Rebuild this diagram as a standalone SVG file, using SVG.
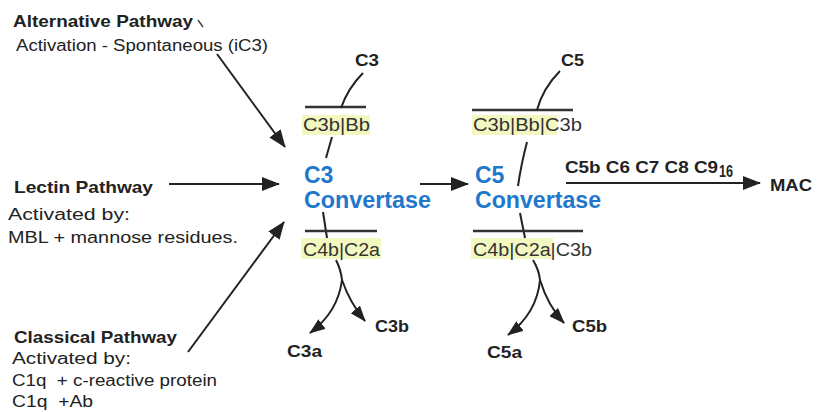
<svg xmlns="http://www.w3.org/2000/svg" width="827" height="412" viewBox="0 0 827 412">
<defs>
<marker id="ahb" viewBox="0 0 18 14" refX="17" refY="7" markerWidth="18" markerHeight="14" orient="auto" markerUnits="userSpaceOnUse">
<path d="M0,0 L18,7 L0,14 z" fill="#222"/>
</marker>
<marker id="ahs" viewBox="0 0 16 12" refX="15" refY="6" markerWidth="16" markerHeight="12" orient="auto" markerUnits="userSpaceOnUse">
<path d="M0,0 L16,6 L0,12 z" fill="#222"/>
</marker>
</defs>
<style>
text{font-family:"Liberation Sans",Arial,sans-serif;fill:#222}
.b{font-weight:bold;font-size:17px}
.r{font-size:16px}
.blue{fill:#1f78cc;font-weight:bold;font-size:23px}
.cx{font-size:18px;fill:#333}
.hl{fill:#f3f8c0}
.bar{stroke:#333;stroke-width:2.5;fill:none}
.ln{stroke:#222;stroke-width:2;fill:none}
.ar{stroke:#222;stroke-width:2;fill:none;marker-end:url(#ahb)}
.as{stroke:#222;stroke-width:2;fill:none;marker-end:url(#ahs)}
</style>
<rect width="827" height="412" fill="#fff"/>
<g id="alternative">
<text class="b" x="13" y="27" textLength="180" lengthAdjust="spacingAndGlyphs">Alternative Pathway</text>
<path d="M198,20 L203,27" stroke="#444" stroke-width="1.5"/>
<text class="r" x="16" y="51" textLength="252" lengthAdjust="spacingAndGlyphs">Activation - Spontaneous (iC3)</text>
</g>
<g id="lectin">
<text class="b" x="14" y="193" textLength="139" lengthAdjust="spacingAndGlyphs">Lectin Pathway</text>
<text class="r" x="8" y="220" textLength="122" lengthAdjust="spacingAndGlyphs">Activated by:</text>
<text class="r" x="8" y="243" textLength="230" lengthAdjust="spacingAndGlyphs">MBL + mannose residues.</text>
</g>
<g id="classical">
<text class="b" x="14" y="343" textLength="163" lengthAdjust="spacingAndGlyphs">Classical Pathway</text>
<text class="r" x="12" y="364" textLength="119" lengthAdjust="spacingAndGlyphs">Activated by:</text>
<text class="r" x="12" y="386" textLength="205" lengthAdjust="spacingAndGlyphs" xml:space="preserve">C1q  + c-reactive protein</text>
<text class="r" x="12" y="407" textLength="81" lengthAdjust="spacingAndGlyphs" xml:space="preserve">C1q  +Ab</text>
</g>
<g id="c3conv">
<text class="b" x="355" y="66" textLength="24" lengthAdjust="spacingAndGlyphs">C3</text>
<rect class="hl" x="302" y="115" width="68" height="20"/>
<text class="cx" x="303" y="131" textLength="67" lengthAdjust="spacingAndGlyphs">C3b|Bb</text>
<text class="blue" x="304" y="183">C3</text>
<text class="blue" x="304" y="208" textLength="127" lengthAdjust="spacingAndGlyphs">Convertase</text>
<rect class="hl" x="301" y="238" width="80" height="21"/>
<text class="cx" x="303" y="256" textLength="77" lengthAdjust="spacingAndGlyphs">C4b|C2a</text>
<text class="b" x="375" y="332" textLength="34" lengthAdjust="spacingAndGlyphs">C3b</text>
<text class="b" x="287" y="357" textLength="35" lengthAdjust="spacingAndGlyphs">C3a</text>
</g>
<g id="c5conv">
<text class="b" x="561" y="66" textLength="23" lengthAdjust="spacingAndGlyphs">C5</text>
<rect class="hl" x="472" y="115" width="85" height="20"/>
<text class="cx" x="473" y="131" textLength="109" lengthAdjust="spacingAndGlyphs">C3b|Bb|C3b</text>
<text class="blue" x="475" y="183">C5</text>
<text class="blue" x="475" y="208" textLength="126" lengthAdjust="spacingAndGlyphs">Convertase</text>
<rect class="hl" x="471" y="238" width="82" height="21"/>
<text class="cx" x="473" y="256" textLength="119" lengthAdjust="spacingAndGlyphs">C4b|C2a|C3b</text>
<text class="b" x="572" y="332" textLength="35" lengthAdjust="spacingAndGlyphs">C5b</text>
<text class="b" x="487" y="358" textLength="35" lengthAdjust="spacingAndGlyphs">C5a</text>
</g>
<g id="mac">
<text class="b" x="565" y="173" textLength="153" lengthAdjust="spacingAndGlyphs">C5b C6 C7 C8 C9</text>
<text class="b" x="719" y="177" font-size="11" textLength="14" lengthAdjust="spacingAndGlyphs">16</text>
<text class="b" x="770" y="191" textLength="42" lengthAdjust="spacingAndGlyphs">MAC</text>
</g>
<g id="connectors">
<path class="ar" d="M217,54 L285,147"/>
<path class="ar" d="M169,184 L279,184"/>
<path class="ar" d="M188,352 L284,222"/>
<path class="ar" d="M420,184 L468,184"/>
<path class="ar" d="M566,183 L760,183"/>
<path class="bar" d="M305,107 L366,107"/>
<path class="ln" d="M363,73 Q348,88 341,108"/>
<path class="ln" d="M332,137 L326,158"/>
<path class="ln" d="M323,212 L327,238"/>
<path class="bar" d="M305,231 L377,231"/>
<path class="ln" d="M336,260 Q341,270 342,280"/>
<path class="as" d="M342,280 Q338,312 310,333"/>
<path class="as" d="M342,280 Q350,303 365,321"/>
<path class="bar" d="M472,110 L573,110"/>
<path class="ln" d="M560,71 Q543,88 537,110"/>
<path class="ln" d="M527,142 Q521,165 518,186"/>
<path class="ln" d="M520,213 L525,238"/>
<path class="bar" d="M473,231 L583,231"/>
<path class="ln" d="M533,260 Q539,270 540,280"/>
<path class="as" d="M540,280 Q537,313 508,335"/>
<path class="as" d="M540,280 Q548,306 564,323"/>
</g>
</svg>
